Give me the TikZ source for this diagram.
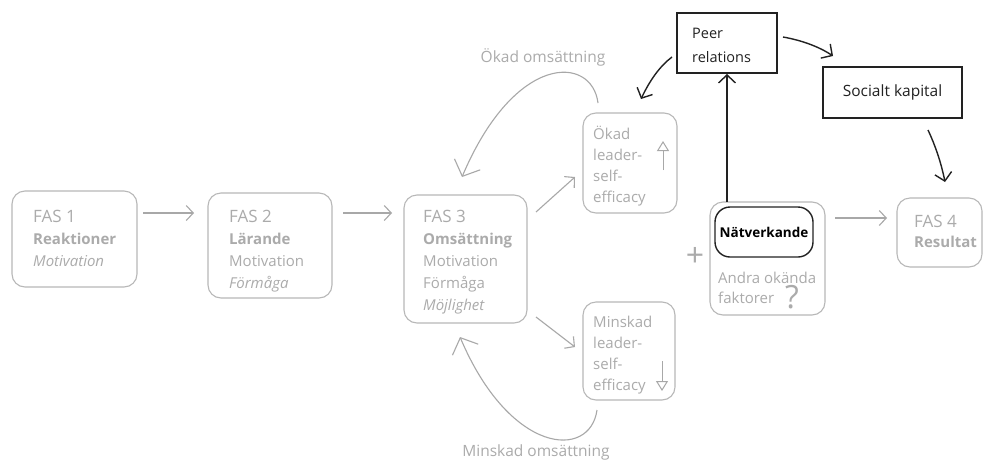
\documentclass[tikz,border=0pt]{standalone}
\usepackage{fontspec}
\setmainfont{Open Sans}
\usetikzlibrary{arrows.meta}
\definecolor{gtext}{HTML}{ABABAB}
\definecolor{gline}{HTML}{B8B8B8}
\definecolor{garrow}{HTML}{A8A8A8}
\definecolor{dark}{HTML}{222222}
\begin{document}
\begin{tikzpicture}[x=1pt,y=-1pt,
  gbox/.style={draw=gline, line width=1.1pt, rounded corners=13pt, inner sep=0pt},
  btxt/.style={text=gtext, align=left, inner sep=0pt, anchor=base west, font=\fontsize{15}{22}\selectfont},
  gar/.style={draw=garrow, line width=1.1pt, -{Straight Barb[length=7pt,width=15pt]}},
  bigar/.style={draw=garrow, line width=1.1pt, -{Straight Barb[length=13pt,width=28pt]}},
  trar/.style={draw=garrow, line width=1pt, -{Triangle[open,length=10pt,width=12pt]}},
  kbox/.style={draw=dark, line width=1.4pt, inner sep=0pt},
  kar/.style={draw=dark, line width=1.4pt, -{Straight Barb[length=8pt,width=17pt]}},
  fas/.style={font=\fontsize{17}{22}\selectfont}
]
\fill[white] (0,0) rectangle (984,461);
\useasboundingbox (0,0) rectangle (984,461);

% grey boxes
\node[gbox, minimum width=125, minimum height=96] (f1) at (74.5,239) {};
\node[gbox, minimum width=124, minimum height=105] (f2) at (270,245.5) {};
\node[gbox, minimum width=123, minimum height=128] (f3) at (465.5,259) {};
\node[gbox, minimum width=94, minimum height=100] (ok) at (630,163) {};
\node[gbox, minimum width=92, minimum height=98] (mi) at (629,351) {};
\node[gbox, minimum width=115, minimum height=113] (nat) at (767.5,258.5) {};
\node[gbox, minimum width=85, minimum height=69] (f4) at (939.5,232.5) {};

% texts in grey boxes (anchor = baseline of last line)
\node[btxt] (f1t) at (33,266) {{\fontsize{17}{22}\selectfont FAS 1}\\\textbf{Reaktioner}\\\textit{Motivation}};
\node[btxt] (f2t) at (229,288) {{\fontsize{17}{22}\selectfont FAS 2}\\\textbf{Lärande}\\Motivation\\\textit{Förmåga}};
\node[btxt] (f3t) at (423,310) {{\fontsize{17}{22}\selectfont FAS 3}\\\textbf{Omsättning}\\Motivation\\Förmåga\\\textit{Möjlighet}};
\node[btxt, font=\fontsize{15}{21}\selectfont] (okt) at (593,202) {Ökad\\leader-\\self-\\efficacy};
\node[btxt, font=\fontsize{15}{21}\selectfont] (mit) at (593,390) {Minskad\\leader-\\self-\\efficacy};
\node[btxt, font=\fontsize{15}{20}\selectfont] (natt) at (718,303) {Andra okända\\faktorer};
\node[text=gtext, inner sep=0pt, font=\fontsize{32}{32}\selectfont] (q) at (792,297) {?};
\node[btxt, font=\fontsize{15}{20}\selectfont] (f4t) at (914,247) {{\fontsize{17}{20}\selectfont FAS 4}\\\textbf{Resultat}};
\node[text=gtext, inner sep=0pt, font=\fontsize{32}{32}\selectfont] (plus) at (695,257) {+};

% small arrows in boxes
\coordinate (oka) at (663,170);
\coordinate (okb) at (663,141);
\draw[trar] (oka) -- (okb);
\coordinate (mia) at (662,361);
\coordinate (mib) at (662,391);
\draw[trar] (mia) -- (mib);

% inner black box
\node[draw=dark, line width=1.4pt, rounded corners=15pt, minimum width=98, minimum height=50, inner sep=0pt,
      font=\fontsize{13.5}{15}\selectfont\bfseries, text=black] (netw) at (764,232) {Nätverkande};

% black boxes
\node[kbox, minimum width=100, minimum height=60] (peer) at (727,43) {};
\node[anchor=base west, inner sep=0pt, align=left, font=\fontsize{14.5}{24}\selectfont, text=dark] (peert) at (692,62) {Peer\\relations};
\node[kbox, minimum width=139, minimum height=51, font=\fontsize{15.5}{17}\selectfont, text=dark] (soc) at (892.5,92.5) {Socialt kapital};

% grey straight arrows
\coordinate (a1s) at (143,213); \coordinate (a1e) at (194,213);
\coordinate (a2s) at (343,213); \coordinate (a2e) at (392,213);
\coordinate (a3s) at (536,212); \coordinate (a3e) at (575,177);
\coordinate (a4s) at (536,317); \coordinate (a4e) at (575,347);
\coordinate (a5s) at (835,218); \coordinate (a5e) at (887,218);
\draw[gar] (a1s) -- (a1e);
\draw[gar] (a2s) -- (a2e);
\draw[gar] (a3s) -- (a3e);
\draw[gar] (a4s) -- (a4e);
\draw[gar] (a5s) -- (a5e);

% big curved arrows
\coordinate (c1s) at (598,103); \coordinate (c1e) at (462,177);
\draw[bigar] (c1s) .. controls (592,55) and (515,52) .. (c1e);
\coordinate (c2s) at (597,410); \coordinate (c2e) at (460,337);
\draw[bigar] (c2s) .. controls (590,460) and (510,455) .. (c2e);
\node[text=gtext, inner sep=0pt, font=\fontsize{15.5}{17}\selectfont] (lok) at (543,57) {Ökad omsättning};
\node[text=gtext, inner sep=0pt, font=\fontsize{15.5}{17}\selectfont] (lmi) at (536,452) {Minskad omsättning};

% black arrows
\coordinate (v1) at (727,202); \coordinate (v2) at (727,74);
\draw[kar] (v1) -- (v2);
\coordinate (b1s) at (783,37); \coordinate (b1e) at (833,56);
\draw[kar] (b1s) .. controls (800,40) and (818,46) .. (b1e);
\coordinate (b2s) at (928,130); \coordinate (b2e) at (945,182);
\draw[kar] (b2s) .. controls (935,145) and (941,162) .. (b2e);
\coordinate (b3s) at (672,57); \coordinate (b3e) at (641,99);
\draw[kar] (b3s) .. controls (660,66) and (650,80) .. (b3e);
\end{tikzpicture}
\end{document}
